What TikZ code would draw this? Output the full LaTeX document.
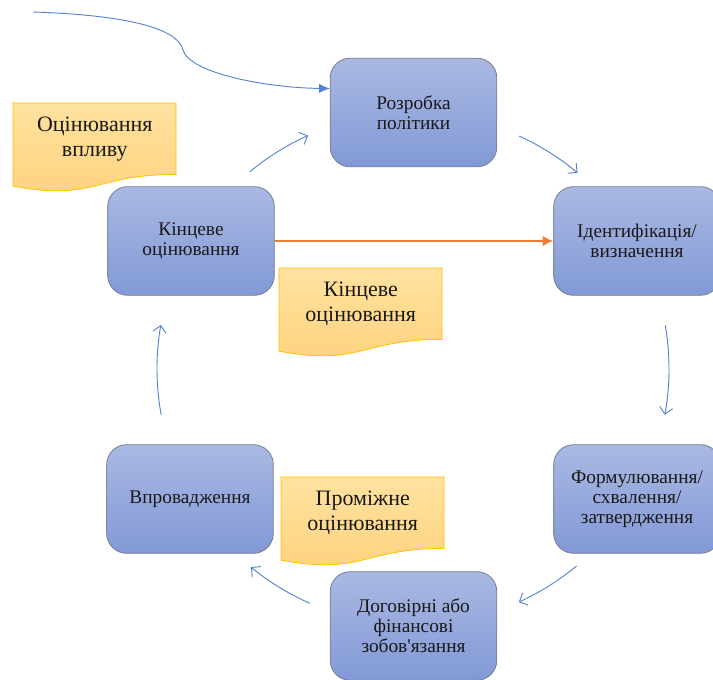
\documentclass[tikz,border=0pt]{standalone}
\usepackage{fontspec}
\setmainfont{Liberation Serif}
\usetikzlibrary{arrows.meta,calc,backgrounds}
\definecolor{stagetop}{RGB}{170,185,227}
\definecolor{stagebot}{RGB}{130,153,214}
\definecolor{stageline}{RGB}{118,128,148}
\definecolor{notetop}{RGB}{255,226,160}
\definecolor{notebot}{RGB}{255,210,125}
\definecolor{noteline}{RGB}{255,192,0}
\definecolor{cycblue}{RGB}{84,130,212}
\definecolor{linkorange}{RGB}{237,125,49}
\tikzset{stage/.style={
  rectangle,
  rounded corners=15pt,
  draw=stageline,
  line width=.6pt,
  top color=stagetop,
  bottom color=stagebot,
  minimum width=125pt,
  minimum height=81.5pt,
  align=center,
  text=black!90,
  font=\fontsize{14.5}{15}\selectfont}}
\tikzset{note/.style={
  anchor=north west,
  minimum width=122.25pt,
  minimum height=53.5pt,
  inner sep=0pt,
  align=center,
  text=black!90,
  font=\fontsize{16.5}{19}\selectfont}}
\tikzset{cycarrow/.style={
  cycblue,
  line width=.7pt,
  -{Straight Barb[length=5pt,width=10pt]}}}

\begin{document}
\begin{tikzpicture}[x=.75pt,y=.75pt]
  \useasboundingbox (0,0) rectangle (713,680);

  %%%% Stages of the cycle %%%%
  \node[stage] (pol) at (413.5,567.5) {Розробка\\політики};
  \node[stage] (idn) at (637,439) {Ідентифікація/\\визначення};
  \node[stage] (frm) at (637,181) {Формулювання/\\схвалення/\\затвердження};
  \node[stage] (dog) at (413.5,54) {Договірні або\\фінансові\\зобов\textquotesingle язання};
  \node[stage] (vpr) at (190,181) {Впровадження};
  \node[stage] (kin) at (191,439) {Кінцеве\\оцінювання};

  %%%% Evaluation notes %%%%
  \node[note] (n1) at (13,577) {Оцінювання\\впливу};
  \node[note] (n2) at (279,412) {Кінцеве\\оцінювання};
  \node[note] (n3) at (281,203) {Проміжне\\оцінювання};

  %% Wavy document shape behind each note
  \begin{scope}[on background layer]
    \foreach \n in {n1,n2,n3}{
      \begin{scope}[shift={(\n.north west)},x=122.25pt,y=66.75pt]
        \draw[draw=noteline,line width=.6pt,top color=notetop,bottom color=notebot]
          (0,0) -- (1,0) -- (1,-.802)
          .. controls (.5,-.802) and (.5,-1.1075) .. (0,-.934) -- cycle;
      \end{scope}
    }
  \end{scope}

  %%%% Arrows of the cycle %%%%
  \coordinate (ctr) at (413,311);
  \foreach \a/\b in {129.6/114.2,65.5/50,9.8/-10.3,-50.3/-65.6,-113.8/-129.3,190.3/170.1}{
    \draw[cycarrow] ($(ctr)+(\a:192pt)$) arc[start angle=\a,end angle=\b,radius=192pt];
  }

  %% Incoming curve
  \coordinate (src) at (33,668);
  \draw[cycblue,line width=.7pt,-{Latex[length=8pt,width=7pt]}] (src)
    .. controls (125,665) and (178,652) .. (183,630)
    .. controls (190,606) and (270,592) .. ([yshift=18pt]pol.west);

  %% Final evaluation feeds back into identification
  \draw[linkorange,line width=1.9pt,-{Latex[length=8pt,width=8pt]}] (kin.east) -- (idn.west);

\end{tikzpicture}
\end{document}
